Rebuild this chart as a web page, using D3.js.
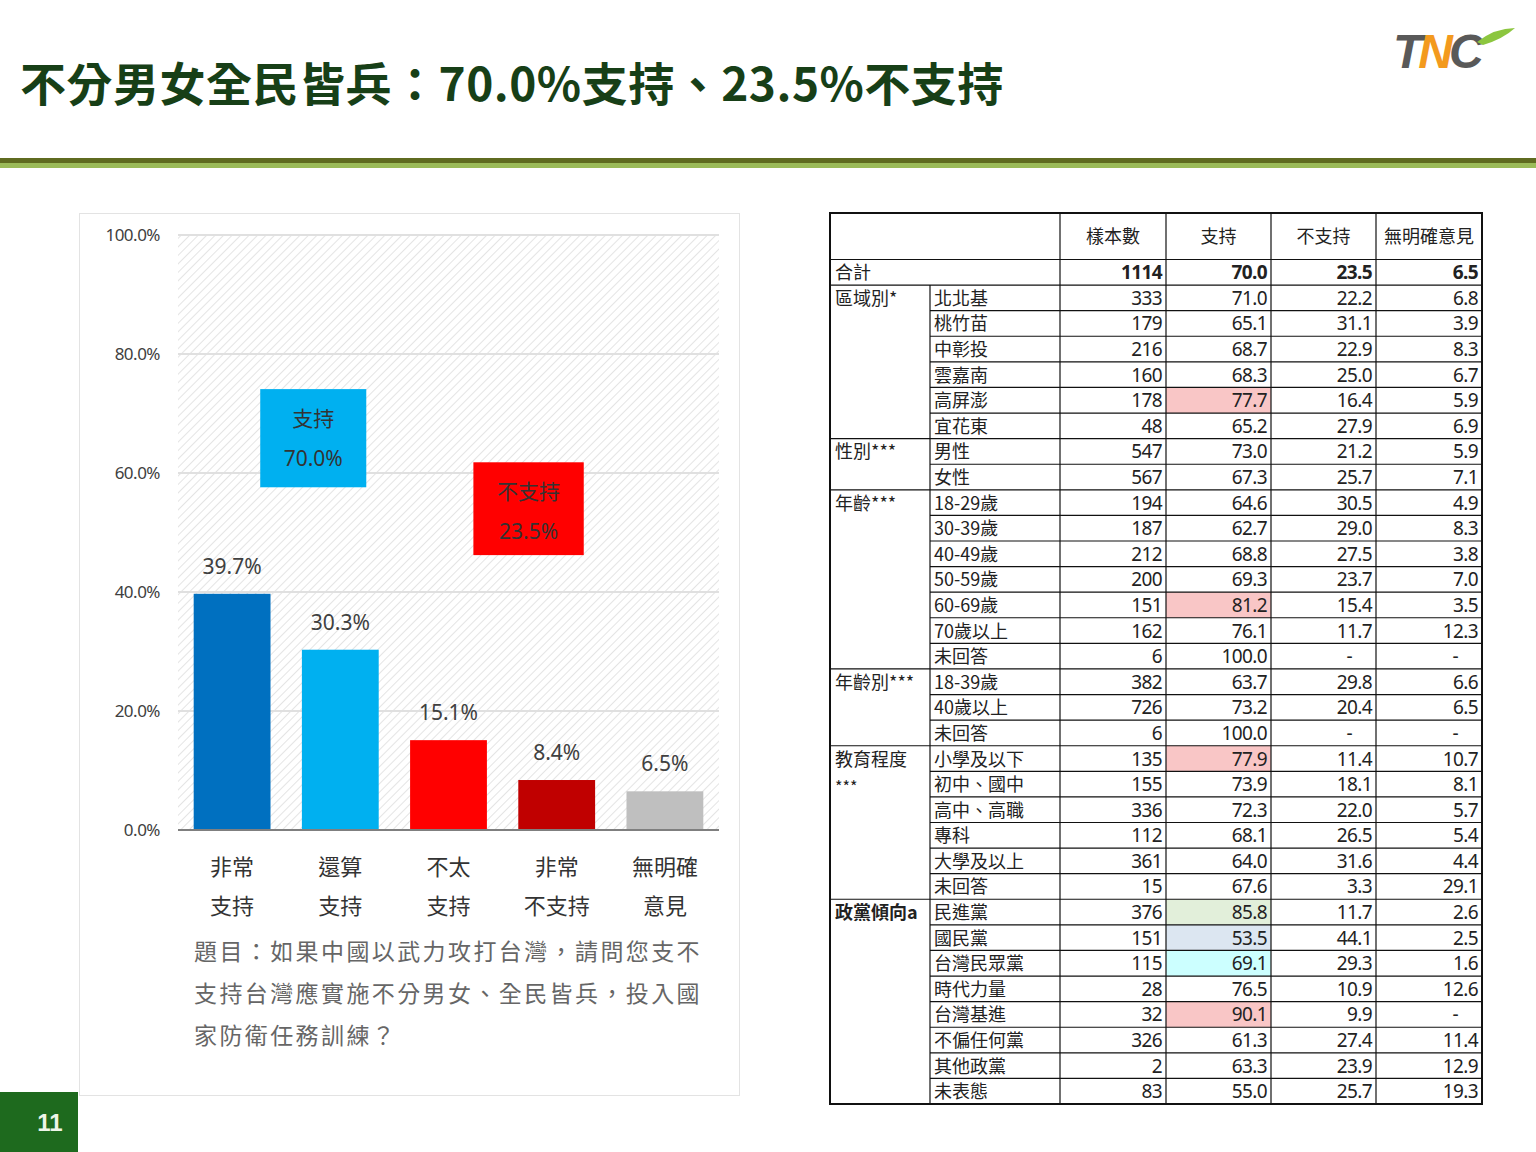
<!DOCTYPE html>
<html>
<head>
<meta charset="utf-8">
<script src="https://cdn.jsdelivr.net/npm/d3@7"></script>
<style>
  body { margin: 0; background: #fff; }
  svg { display: block; font-family: "Noto Sans CJK TC", "Noto Sans", sans-serif; }
</style>
</head>
<body>
<div id="page"></div>
<script>
// Dados do gráfico de barras
const categories = [["非常", "支持"], ["還算", "支持"], ["不太", "支持"], ["非常", "不支持"], ["無明確", "意見"]];
const shares = [39.7, 30.3, 15.1, 8.4, 6.5];
const barColors = ["#0070c0", "#00b0f0", "#ff0000", "#c00000", "#bfbfbf"];
const yTicks = [0, 20, 40, 60, 80, 100];
const callouts = [
  { label: "支持", value: "70.0%", color: "#00b0f0", top: 74.1, bottom: 57.6, x0: 0.152, x1: 0.348 },
  { label: "不支持", value: "23.5%", color: "#ff0000", top: 61.8, bottom: 46.2, x0: 0.546, x1: 0.75 }
];
const questionLines = [
  "題目：如果中國以武力攻打台灣，請問您支不",
  "支持台灣應實施不分男女、全民皆兵，投入國",
  "家防衛任務訓練？"
];

// Dados da tabela
const tableHeaders = ["樣本數", "支持", "不支持", "無明確意見"];
const tableRows = [
  ["合計", "", "1114", "70.0", "23.5", "6.5"],
  ["區域別*", "北北基", "333", "71.0", "22.2", "6.8"],
  ["區域別*", "桃竹苗", "179", "65.1", "31.1", "3.9"],
  ["區域別*", "中彰投", "216", "68.7", "22.9", "8.3"],
  ["區域別*", "雲嘉南", "160", "68.3", "25.0", "6.7"],
  ["區域別*", "高屏澎", "178", "77.7", "16.4", "5.9"],
  ["區域別*", "宜花東", "48", "65.2", "27.9", "6.9"],
  ["性別***", "男性", "547", "73.0", "21.2", "5.9"],
  ["性別***", "女性", "567", "67.3", "25.7", "7.1"],
  ["年齡***", "18-29歲", "194", "64.6", "30.5", "4.9"],
  ["年齡***", "30-39歲", "187", "62.7", "29.0", "8.3"],
  ["年齡***", "40-49歲", "212", "68.8", "27.5", "3.8"],
  ["年齡***", "50-59歲", "200", "69.3", "23.7", "7.0"],
  ["年齡***", "60-69歲", "151", "81.2", "15.4", "3.5"],
  ["年齡***", "70歲以上", "162", "76.1", "11.7", "12.3"],
  ["年齡***", "未回答", "6", "100.0", "-", "-"],
  ["年齡別***", "18-39歲", "382", "63.7", "29.8", "6.6"],
  ["年齡別***", "40歲以上", "726", "73.2", "20.4", "6.5"],
  ["年齡別***", "未回答", "6", "100.0", "-", "-"],
  ["教育程度", "小學及以下", "135", "77.9", "11.4", "10.7"],
  ["教育程度", "初中、國中", "155", "73.9", "18.1", "8.1"],
  ["教育程度", "高中、高職", "336", "72.3", "22.0", "5.7"],
  ["教育程度", "專科", "112", "68.1", "26.5", "5.4"],
  ["教育程度", "大學及以上", "361", "64.0", "31.6", "4.4"],
  ["教育程度", "未回答", "15", "67.6", "3.3", "29.1"],
  ["政黨傾向a", "民進黨", "376", "85.8", "11.7", "2.6"],
  ["政黨傾向a", "國民黨", "151", "53.5", "44.1", "2.5"],
  ["政黨傾向a", "台灣民眾黨", "115", "69.1", "29.3", "1.6"],
  ["政黨傾向a", "時代力量", "28", "76.5", "10.9", "12.6"],
  ["政黨傾向a", "台灣基進", "32", "90.1", "9.9", "-"],
  ["政黨傾向a", "不偏任何黨", "326", "61.3", "27.4", "11.4"],
  ["政黨傾向a", "其他政黨", "2", "63.3", "23.9", "12.9"],
  ["政黨傾向a", "未表態", "83", "55.0", "25.7", "19.3"]
];
// célula destacada: [linha, coluna, cor]
const highlights = [
  [5, 3, "#f9c6c6"], [13, 3, "#f9c6c6"], [19, 3, "#f9c6c6"],
  [25, 3, "#e2efda"], [26, 3, "#dce6f1"], [27, 3, "#ccffff"], [29, 3, "#f9c6c6"]
];

const W = 1536, H = 1152;
const svg = d3.select('#page').append('svg').attr('width', W).attr('height', H);

// Título
svg.append('text')
  .attr('x', 20).attr('y', 101)
  .attr('font-size', 46).attr('font-weight', 'bold')
  .attr('fill', '#173f17').attr('letter-spacing', 0.5)
  .text('不分男女全民皆兵：70.0%支持、23.5%不支持');

// Logo TNC
const logo = svg.append('g').attr('transform', 'translate(1393,68)');
logo.append('text').attr('x', 0).attr('y', 0).attr('font-size', 48).attr('font-weight', 'bold')
  .attr('font-style', 'italic').attr('font-family', 'Liberation Sans, sans-serif')
  .attr('letter-spacing', -4)
  .selectAll('tspan').data([['T', '#595959'], ['N', '#f39a1e'], ['C', '#595959']]).join('tspan')
  .attr('fill', d => d[1]).text(d => d[0]);
logo.append('path').attr('d', 'M84,-26 Q102,-40 122,-40 Q110,-29 90,-23 Z').attr('fill', '#8cc63f');

// Faixa verde
svg.append('rect').attr('x', 0).attr('y', 158).attr('width', W).attr('height', 5).attr('fill', '#5f6b20');
svg.append('rect').attr('x', 0).attr('y', 163).attr('width', W).attr('height', 5).attr('fill', '#9bbb59');

// Painel do gráfico
svg.append('rect').attr('x', 79.5).attr('y', 213.5).attr('width', 660).attr('height', 882)
  .attr('fill', '#fff').attr('stroke', '#e3e3e3');

const plot = { left: 178, right: 719, top: 235, bottom: 830 };
const x = d3.scaleBand().domain(d3.range(shares.length)).range([plot.left, plot.right]).paddingInner(0.29).paddingOuter(0.145);
const y = d3.scaleLinear().domain([0, 100]).range([plot.bottom, plot.top]);

// Padrão tracejado
const defs = svg.append('defs');
const pat = defs.append('pattern').attr('id', 'hatch').attr('patternUnits', 'userSpaceOnUse')
  .attr('width', 6).attr('height', 6).attr('patternTransform', 'rotate(45)');
pat.append('line').attr('x1', 0).attr('y1', 0).attr('x2', 0).attr('y2', 6)
  .attr('stroke', '#d2d2d2').attr('stroke-width', 1.2);

svg.append('rect').attr('x', plot.left).attr('y', plot.top)
  .attr('width', plot.right - plot.left).attr('height', plot.bottom - plot.top)
  .attr('fill', 'url(#hatch)');

// Grelha
svg.append('g').selectAll('line').data(yTicks.filter(d => d > 0)).join('line')
  .attr('x1', plot.left).attr('x2', plot.right)
  .attr('y1', d => y(d)).attr('y2', d => y(d))
  .attr('stroke', '#e0e0e0').attr('stroke-width', 2);

// Eixo Y
const yAxis = d3.axisLeft(y).tickValues(yTicks).tickFormat(d => d.toFixed(1) + '%').tickSize(0).tickPadding(18);
const yg = svg.append('g').attr('transform', `translate(${plot.left},0)`).call(yAxis);
yg.select('.domain').remove();
yg.selectAll('text').attr('font-size', 17).attr('fill', '#404040')
  .attr('font-family', 'Noto Sans, sans-serif').attr('letter-spacing', -0.5);

// Barras
svg.append('g').selectAll('rect').data(shares).join('rect')
  .attr('x', (d, i) => x(i)).attr('width', x.bandwidth())
  .attr('y', d => y(d)).attr('height', d => y(0) - y(d))
  .attr('fill', (d, i) => barColors[i]);

// Rótulos de valor
svg.append('g').selectAll('text').data(shares).join('text')
  .attr('x', (d, i) => x(i) + x.bandwidth() / 2)
  .attr('y', d => y(d) - 20)
  .attr('text-anchor', 'middle').attr('font-size', 21).attr('fill', '#404040')
  .attr('font-family', 'Noto Sans, sans-serif')
  .text(d => d.toFixed(1) + '%');

// Linha de base
svg.append('line').attr('x1', plot.left).attr('x2', plot.right)
  .attr('y1', y(0)).attr('y2', y(0)).attr('stroke', '#7f7f7f').attr('stroke-width', 2);

// Rótulos das categorias
const xl = svg.append('g').selectAll('text').data(categories).join('text')
  .attr('text-anchor', 'middle').attr('font-size', 22).attr('fill', '#333');
xl.selectAll('tspan').data((d, i) => d.map(s => ({ s, i }))).join('tspan')
  .attr('x', d => x(d.i) + x.bandwidth() / 2)
  .attr('y', (d, j) => 875 + j * 39)
  .text(d => d.s);

// Caixas de destaque
const pw = plot.right - plot.left;
const cb = svg.append('g').selectAll('g').data(callouts).join('g');
cb.append('rect')
  .attr('x', d => plot.left + d.x0 * pw).attr('width', d => (d.x1 - d.x0) * pw)
  .attr('y', d => y(d.top)).attr('height', d => y(d.bottom) - y(d.top))
  .attr('fill', d => d.color);
cb.append('text')
  .attr('x', d => plot.left + (d.x0 + d.x1) / 2 * pw)
  .attr('y', d => y(d.top) + 37)
  .attr('text-anchor', 'middle').attr('font-size', 21).attr('fill', '#333')
  .text(d => d.label);
cb.append('text')
  .attr('x', d => plot.left + (d.x0 + d.x1) / 2 * pw)
  .attr('y', d => y(d.top) + 77)
  .attr('text-anchor', 'middle').attr('font-size', 21).attr('fill', '#333')
  .attr('font-family', 'Noto Sans, sans-serif')
  .text(d => d.value);

// Pergunta
svg.append('g').selectAll('text').data(questionLines).join('text')
  .attr('x', 194).attr('y', (d, i) => 960 + i * 42)
  .attr('font-size', 23).attr('fill', '#666').attr('letter-spacing', 2.4)
  .text(d => d);

// Tabela
const colX = [830, 930, 1060, 1166, 1271, 1376, 1482];
const headTop = 213, headBottom = 259.5;
const rowY = d3.scaleBand().domain(d3.range(tableRows.length)).range([headBottom, 1104]);
const rh = rowY.bandwidth();
const tbl = svg.append('g');

// Destaques
tbl.selectAll('rect.hl').data(highlights).join('rect').attr('class', 'hl')
  .attr('x', d => colX[d[1]]).attr('width', d => colX[d[1] + 1] - colX[d[1]])
  .attr('y', d => rowY(d[0])).attr('height', rh)
  .attr('fill', d => d[2]);

// Cabeçalho
tbl.selectAll('text.hd').data(tableHeaders).join('text').attr('class', 'hd')
  .attr('x', (d, i) => (colX[i + 2] + colX[i + 3]) / 2)
  .attr('y', (headTop + headBottom) / 2 + 7)
  .attr('text-anchor', 'middle').attr('font-size', 18).attr('fill', '#222')
  .text(d => d);

// Linhas
const rowG = tbl.selectAll('g.row').data(tableRows).join('g').attr('class', 'row')
  .attr('transform', (d, i) => `translate(0,${rowY(i)})`);

rowG.filter((d, i) => i === 0 || d[0] !== tableRows[i - 1][0])
  .append('text').attr('x', colX[0] + 5).attr('y', rh / 2 + 7)
  .attr('font-size', 18).attr('fill', '#222')
  .attr('font-weight', d => d[0] === '政黨傾向a' ? 'bold' : 'normal')
  .text(d => d[0]);
// "***" de 教育程度 na segunda linha
rowG.filter((d, i) => d[0] === '教育程度' && tableRows[i - 1][0] === '教育程度' && tableRows[i - 2][0] !== '教育程度')
  .append('text').attr('x', colX[0] + 5).attr('y', rh / 2 + 9)
  .attr('font-size', 16).attr('fill', '#222').text('***');

rowG.append('text').attr('x', colX[1] + 4).attr('y', rh / 2 + 7)
  .attr('font-size', 18).attr('fill', '#222').text(d => d[1]);

rowG.selectAll('text.num').data((d, i) => d.slice(2).map(v => ({ v, bold: i === 0 }))).join('text')
  .attr('class', 'num')
  .attr('x', (d, j) => colX[j + 3] - 4).attr('y', rh / 2 + 7)
  .attr('text-anchor', 'end')
  .attr('dx', d => d.v === '-' ? -20 : 0)
  .attr('font-size', 19).attr('fill', '#222')
  .attr('font-weight', d => d.bold ? 'bold' : 'normal')
  .attr('font-family', 'Noto Sans, sans-serif').attr('letter-spacing', -0.6)
  .text(d => d.v);

// Linhas de grelha da tabela
const gl = tbl.append('g').attr('stroke', '#111').attr('stroke-width', 1.2);
tableRows.forEach((r, i) => {
  const yb = rowY(i) + rh;
  const isGroupEnd = i === tableRows.length - 1 || tableRows[i + 1][0] !== r[0];
  gl.append('line').attr('x1', isGroupEnd ? colX[0] : colX[1]).attr('x2', colX[6]).attr('y1', yb).attr('y2', yb);
});
gl.append('line').attr('x1', colX[0]).attr('x2', colX[6]).attr('y1', headBottom).attr('y2', headBottom);
gl.append('line').attr('x1', colX[1]).attr('x2', colX[1]).attr('y1', rowY(1)).attr('y2', 1104);
[2, 3, 4, 5].forEach(c => {
  gl.append('line').attr('x1', colX[c]).attr('x2', colX[c]).attr('y1', headTop).attr('y2', 1104);
});
tbl.append('rect').attr('x', colX[0]).attr('y', headTop).attr('width', colX[6] - colX[0]).attr('height', 1104 - headTop)
  .attr('fill', 'none').attr('stroke', '#111').attr('stroke-width', 2);

// Número da página
svg.append('rect').attr('x', 0).attr('y', 1092).attr('width', 78).attr('height', 60).attr('fill', '#1e6a1e');
svg.append('text').attr('x', 50).attr('y', 1131).attr('text-anchor', 'middle')
  .attr('font-size', 24).attr('font-weight', 'bold').attr('fill', '#eef5e8')
  .attr('font-family', 'Liberation Sans, sans-serif').text('11');
</script>
</body>
</html>
